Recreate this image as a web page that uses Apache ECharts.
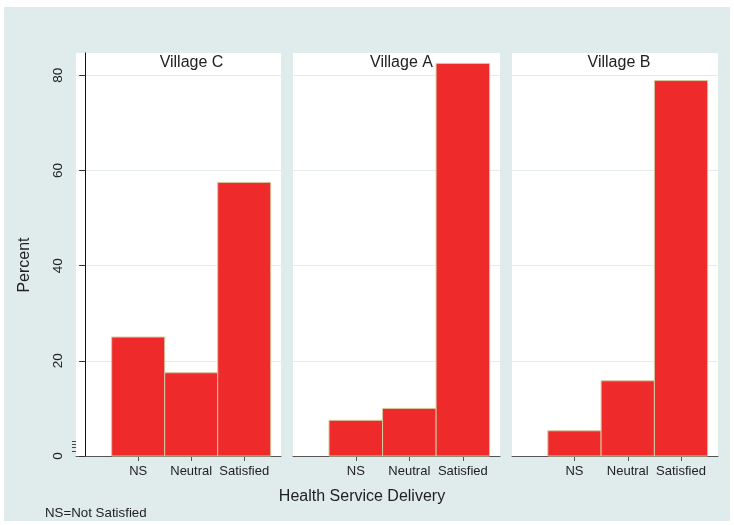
<!DOCTYPE html>
<html>
<head>
<meta charset="utf-8">
<script src="https://cdn.jsdelivr.net/npm/echarts@6/dist/echarts.min.js"></script>
<style>html,body{margin:0;padding:0;background:#fff}#c{width:734px;height:525px}</style>
</head>
<body>
<div id="c"></div>
<script>
const categories = ['NS', 'Neutral', 'Satisfied'];
const panelTitles = ['Village C', 'Village A', 'Village B'];
const villageC = [25, 17.5, 57.5];
const villageA = [7.5, 10, 82.5];
const villageB = [5.3, 15.8, 78.9];
const yTicks = [0, 20, 40, 60, 80];
const minorTicks = [1.05, 1.75, 2.45, 3.15];

const panelData = [villageC, villageA, villageB];
const FONT = '"Liberation Sans", Arial, sans-serif';
const gridsPos = [
  {left: 76, width: 205},
  {left: 293, width: 207},
  {left: 512, width: 206}
];
const titleX = [191.5, 401.5, 619];
const yMax = 84.7;

const chart = echarts.init(document.getElementById('c'));

function renderItem(params, api) {
  const x = api.value(0), y = api.value(1);
  const p0 = api.coord([x - 0.5, y]);
  const p1 = api.coord([x + 0.5, 0]);
  return {
    type: 'rect',
    shape: {x: p0[0], y: p0[1], width: p1[0] - p0[0], height: p1[1] - p0[1]},
    style: {fill: '#ef2a2a', stroke: '#d3c79f', lineWidth: 1}
  };
}

const grid = gridsPos.map(g => ({
  left: g.left, width: g.width, top: 53, height: 403,
  show: true, backgroundColor: '#ffffff', borderWidth: 0, containLabel: false
}));

const xAxis = gridsPos.map((g, i) => ({
  type: 'value', gridIndex: i, min: -0.173, max: 3.694,
  axisLine: {show: true, lineStyle: {color: '#555555', width: 1}},
  axisTick: {show: true, customValues: [1, 2, 3], length: 5, lineStyle: {color: '#555555'}},
  axisLabel: {show: true, customValues: [1, 2, 3], margin: 9,
    formatter: v => categories[Math.round(v) - 1] || '',
    color: '#222222', fontSize: 13, fontFamily: FONT},
  splitLine: {show: false}
}));

const yAxis = gridsPos.map((g, i) => ({
  type: 'value', gridIndex: i, min: 0, max: yMax, interval: 20,
  axisLine: {show: i === 0, lineStyle: {color: '#111111', width: 1}},
  axisTick: {show: i === 0, customValues: yTicks, length: 6, lineStyle: {color: '#333333'}},
  axisLabel: {show: i === 0, customValues: yTicks, rotate: 90, margin: 11, color: '#222222', fontSize: 13.5, fontFamily: FONT,
    formatter: v => String(v)},
  splitLine: {show: true, lineStyle: {color: '#e2ecec', width: 1}}
}));
yAxis.push({
  type: 'value', gridIndex: 0, min: 0, max: yMax, position: 'left',
  axisLine: {show: false},
  axisTick: {show: true, customValues: minorTicks, length: 4, lineStyle: {color: '#444444'}},
  axisLabel: {show: false},
  splitLine: {show: false}
});

const series = panelData.map((vals, i) => ({
  type: 'custom', xAxisIndex: i, yAxisIndex: i, renderItem: renderItem,
  data: vals.map((v, k) => [k + 1, v]), z: 3, clip: false
}));

const graphic = [
  {type: 'rect', z: -10, shape: {x: 4, y: 7, width: 726, height: 514}, style: {fill: '#e0ebeb'}},
  {type: 'text', x: 25, y: 265, rotation: Math.PI / 2, style: {text: 'Percent', fontSize: 16, fontFamily: FONT, fill: '#222222', align: 'center', verticalAlign: 'middle'}},
  {type: 'text', x: 362, y: 497, style: {text: 'Health Service Delivery', fontSize: 16, fontFamily: FONT, fill: '#222222', align: 'center', verticalAlign: 'middle'}},
  {type: 'text', x: 45, y: 513, style: {text: 'NS=Not Satisfied', fontSize: 13.3, fontFamily: FONT, fill: '#222222', align: 'left', verticalAlign: 'middle'}}
];
panelTitles.forEach((t, i) => {
  graphic.push({type: 'text', x: titleX[i], y: 62.5, z: 10, style: {text: t, fontSize: 16, fontFamily: FONT, fill: '#222222', align: 'center', verticalAlign: 'middle'}});
});

chart.setOption({
  backgroundColor: '#ffffff',
  animation: false,
  grid: grid,
  xAxis: xAxis,
  yAxis: yAxis,
  series: series,
  graphic: graphic
});
</script>
</body>
</html>
